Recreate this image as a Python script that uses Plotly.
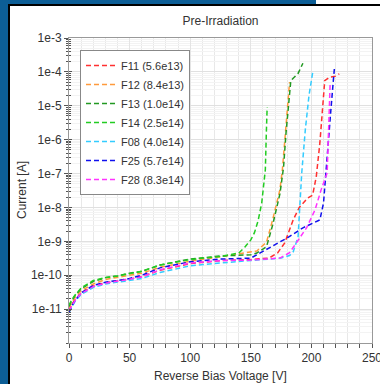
import plotly.graph_objects as go

# ---------------- data ----------------
names = ["F11 (5.6e13)", "F12 (8.4e13)", "F13 (1.0e14)", "F14 (2.5e14)",
         "F08 (4.0e14)", "F25 (5.7e14)", "F28 (8.3e14)"]
colors = ["#ff3030", "#ff9a3c", "#229922", "#22cc22", "#33ccff", "#1010ee", "#ff33ff"]

V_F11 = [0, 2, 5, 10, 20, 30, 40, 50, 60, 75, 100, 125, 150, 165, 172, 178, 185, 190, 197, 201, 204, 207, 209, 211, 215, 220, 223]
I_F11 = [9e-12, 1.3e-11, 1.9e-11, 3e-11, 4.8e-11, 6e-11, 6.8e-11, 7.8e-11, 9e-11, 1.4e-10, 2.2e-10, 2.7e-10, 2.9e-10, 3.2e-10,
         4.5e-10, 9e-10, 4.3e-9, 1.0e-8, 1.9e-8, 2.3e-8, 8e-8, 8e-7, 6e-6, 5.5e-5, 7e-5, 7.5e-5, 8.7e-5]

V_F12 = [0, 2, 5, 10, 20, 30, 40, 50, 60, 75, 100, 125, 150, 155, 163, 168, 174, 176, 178, 180, 182]
I_F12 = [1.1e-11, 1.5e-11, 2.2e-11, 3.5e-11, 5.5e-11, 7.5e-11, 8.5e-11, 1e-10, 1.15e-10, 1.7e-10, 2.6e-10, 3.5e-10, 4.9e-10,
         5.2e-10, 9.5e-10, 4.3e-9, 3.3e-8, 1.25e-7, 9e-7, 7e-6, 5e-5]

V_F13 = [0, 2, 5, 10, 20, 30, 40, 50, 60, 75, 100, 125, 150, 155, 163, 168, 174, 177, 179, 181, 183, 189, 193]
I_F13 = [1.2e-11, 1.7e-11, 2.5e-11, 4e-11, 6.5e-11, 8.5e-11, 9.5e-11, 1.15e-10, 1.3e-10, 2e-10, 3e-10, 3.7e-10, 4e-10,
         4.5e-10, 7e-10, 3e-9, 2.5e-8, 1.5e-7, 1.5e-6, 1.2e-5, 5.5e-5, 9e-5, 1.8e-4]

V_F14 = [0, 2, 5, 10, 20, 30, 40, 50, 60, 75, 100, 125, 140, 145, 150, 153, 156, 159, 162, 162.8, 163.5]
I_F14 = [1.3e-11, 1.8e-11, 2.6e-11, 4.2e-11, 7e-11, 8.5e-11, 9.5e-11, 1.1e-10, 1.3e-10, 2e-10, 2.9e-10, 3.6e-10, 4.5e-10,
         6.7e-10, 1.1e-9, 1.8e-9, 4e-9, 1.35e-8, 1.3e-7, 1.5e-6, 9e-6]

V_F08 = [0, 2, 5, 10, 20, 30, 40, 50, 60, 75, 100, 125, 150, 175, 182, 185, 189, 190, 192, 195, 198, 201]
I_F08 = [8e-12, 1.1e-11, 1.7e-11, 2.7e-11, 4.3e-11, 5.5e-11, 6.2e-11, 7e-11, 8e-11, 1.2e-10, 1.9e-10, 2.3e-10, 2.7e-10,
         3.2e-10, 3.8e-10, 4.9e-10, 1.35e-9, 7e-9, 1e-7, 2e-6, 2e-5, 9.3e-5]

V_F25 = [0, 2, 5, 10, 20, 30, 40, 50, 60, 75, 100, 125, 150, 162, 170, 180, 193, 207, 210, 212, 214, 216, 218, 219]
I_F25 = [8e-12, 1.2e-11, 1.8e-11, 3e-11, 5e-11, 6.2e-11, 7e-11, 8e-11, 1e-10, 1.65e-10, 2.5e-10, 3e-10, 3.2e-10, 5.6e-10,
         8e-10, 1.26e-9, 2.5e-9, 4.3e-9, 1.35e-8, 9e-8, 8e-7, 7e-6, 5e-5, 1.3e-4]

V_F28 = [0, 2, 5, 10, 20, 30, 40, 50, 60, 75, 100, 125, 150, 174, 182, 188, 196, 203, 208, 213, 214, 215, 215.5]
I_F28 = [9e-12, 1.2e-11, 1.8e-11, 2.9e-11, 4.6e-11, 5.8e-11, 6.6e-11, 7.5e-11, 8.8e-11, 1.45e-10, 2.3e-10, 2.7e-10, 2.8e-10,
         3.2e-10, 4.6e-10, 9.5e-10, 2.5e-9, 8.5e-9, 3.3e-8, 1.05e-7, 1e-6, 1e-5, 5e-5]

series_V = [V_F11, V_F12, V_F13, V_F14, V_F08, V_F25, V_F28]
series_I = [I_F11, I_F12, I_F13, I_F14, I_F08, I_F25, I_F28]

x_tickvals = [0, 50, 100, 150, 200, 250]
y_tickvals = [1e-11, 1e-10, 1e-9, 1e-8, 1e-7, 1e-6, 1e-5, 1e-4, 1e-3]
y_ticktext = ["1e-11", "1e-10", "1e-9", "1e-8", "1e-7", "1e-6", "1e-5", "1e-4", "1e-3"]

# ---------------- figure ----------------
W, H = 380, 384
L, R, T, B = 69, 8, 38, 41
pw, ph = W - L - R, H - T - B


def px(x):
    return (x - L) / pw


def py(y):
    return (H - B - y) / ph


fig = go.Figure()
for n, c, v, i in zip(names, colors, series_V, series_I):
    fig.add_trace(go.Scatter(x=v, y=i, mode="lines", name=n,
                             line=dict(color=c, width=1.5, dash="5px,3px")))

# invisible trace for inside-tick overlay axis
fig.add_trace(go.Scatter(x=[0], y=[1e-11], yaxis="y2", mode="markers",
                         marker=dict(opacity=0), showlegend=False, hoverinfo="skip"))

font = "Liberation Sans, Arial, sans-serif"
fig.update_layout(
    width=W, height=H,
    margin=dict(l=L, r=R, t=T, b=B, autoexpand=False),
    paper_bgcolor="white", plot_bgcolor="white",
    font=dict(family=font, size=12, color="#333"),
    title=dict(text="Pre-Irradiation", x=0.5, xref="paper",
               y=1 - 21 / H, yref="container", xanchor="center", yanchor="middle",
               font=dict(size=12, color="#333")),
    xaxis=dict(range=[0, 250.001], tickvals=x_tickvals, showline=True, linecolor="#999", mirror=True,
               automargin=False,
               ticks="outside", ticklen=4, tickcolor="#555", gridcolor="#e4e4e4",
               ticklabeloverflow="allow",
               minor=dict(dtick=10, ticks="outside", ticklen=4, tickcolor="#555",
                          showgrid=True, gridcolor="#e8e8e8"),
               zeroline=False,
               tickfont=dict(size=12, color="#333")),
    yaxis=dict(type="log", range=[-12, -3], tickvals=y_tickvals, ticktext=y_ticktext,
               showline=True, linecolor="#999", mirror=True, automargin=False,
               ticks="outside", ticklen=4, tickcolor="#555", gridcolor="#e0e0e0",
               minor=dict(dtick="D1", ticks="outside", ticklen=2, tickcolor="#555",
                          showgrid=True, gridcolor="#f3f3f3"),
               tickfont=dict(size=12, color="#333")),
    yaxis2=dict(type="log", range=[-12, -3], overlaying="y", side="left", anchor="x",
                automargin=False,
                tickvals=y_tickvals, showticklabels=False, showgrid=False,
                ticks="inside", ticklen=3, tickcolor="#555",
                minor=dict(dtick="D1", ticks="inside", ticklen=2, tickcolor="#555", showgrid=False)),
    legend=dict(x=px(80), y=py(50), xanchor="left", yanchor="top",
                bgcolor="white", bordercolor="#888", borderwidth=1,
                font=dict(size=11, color="#333"), tracegroupgap=0,
                itemwidth=30),
    showlegend=True,
)

fig.add_annotation(text="Current [A]", xref="paper", yref="paper", x=px(22), y=py(190),
                   textangle=-90, showarrow=False, xanchor="center", yanchor="middle",
                   font=dict(size=12, color="#333"))
fig.add_annotation(text="Reverse Bias Voltage [V]", xref="paper", yref="paper", x=px(220), y=py(376),
                   showarrow=False, xanchor="center", yanchor="middle",
                   font=dict(size=12, color="#333"))

# page frame: blue strips and black border
blue = "#0c5e96"
fig.add_shape(type="rect", xref="paper", yref="paper", x0=px(0), x1=px(8), y0=py(H), y1=py(0),
              fillcolor=blue, line_width=0, layer="above")
fig.add_shape(type="rect", xref="paper", yref="paper", x0=px(0), x1=px(316), y0=py(4), y1=py(0),
              fillcolor=blue, line_width=0, layer="above")
fig.add_shape(type="rect", xref="paper", yref="paper", x0=px(8), x1=px(10), y0=py(H), y1=py(4),
              fillcolor="black", line_width=0, layer="above")
fig.add_shape(type="rect", xref="paper", yref="paper", x0=px(8), x1=px(W), y0=py(6), y1=py(4),
              fillcolor="black", line_width=0, layer="above")

fig.write_html("out.html")
